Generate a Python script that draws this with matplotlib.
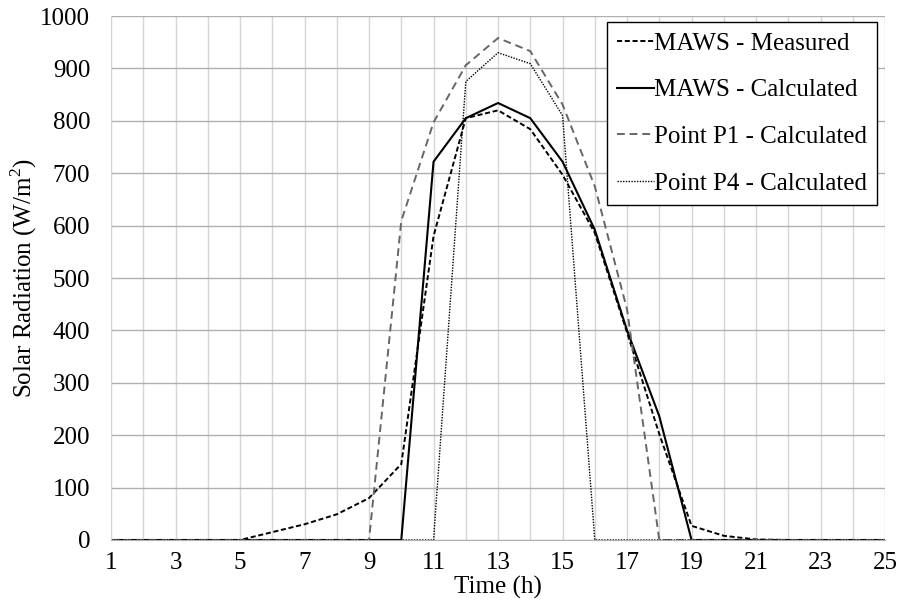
import matplotlib
matplotlib.use('Agg')
import matplotlib.pyplot as plt

hours = list(range(1, 26))
maws_measured = [0, 0, 0, 0, 0, 15, 30, 49, 80, 145, 580, 805, 820, 784, 697, 586, 396, 202, 27, 8, 1, 0, 0, 0, 0]
maws_calc = [0, 0, 0, 0, 0, 0, 0, 0, 0, 0, 722, 805, 834, 805, 722, 592, 400, 236, 0, 0, 0, 0, 0, 0, 0]
p1_calc = [0, 0, 0, 0, 0, 0, 0, 0, 0, 609, 797, 906, 958, 933, 831, 675, 440, 0, 0, 0, 0, 0, 0, 0, 0]
p4_calc = [0, 0, 0, 0, 0, 0, 0, 0, 0, 0, 0, 875, 930, 909, 810, 0, 0, 0, 0, 0, 0, 0, 0, 0, 0]

plt.rcParams['font.family'] = ['Liberation Serif', 'DejaVu Serif']
plt.rcParams['mathtext.fontset'] = 'custom'
plt.rcParams['mathtext.rm'] = 'Liberation Serif'
plt.rcParams['font.size'] = 18

fig = plt.figure(figsize=(8.99, 6.16), dpi=100)
ax = fig.add_axes([0.1235, 0.1234, 0.861, 0.8506])

ax.plot(hours, maws_measured, color='black', ls=(0, (2.6, 1.4)), lw=1.4, label='MAWS - Measured')
ax.plot(hours, maws_calc, color='black', ls='-', lw=1.5, label='MAWS - Calculated')
ax.plot(hours, p1_calc, color='#666666', ls=(0, (4, 2.5)), lw=1.4, label='Point P1 - Calculated')
ax.plot(hours, p4_calc, color='black', ls=(0, (1, 1)), lw=1.0, label='Point P4 - Calculated')

ax.set_xlim(1, 25)
ax.set_ylim(0, 1000)
ax.set_xticks(range(1, 26, 2))
ax.set_xticks(range(1, 26), minor=True)
ax.set_yticks(range(0, 1001, 100))
ax.grid(axis='y', which='major', color='#b0b0b0', lw=1)
ax.grid(axis='x', which='both', color='#d6d6d6', lw=1)
ax.set_axisbelow(True)
ax.tick_params(axis='y', which='both', length=0, pad=15)
ax.tick_params(axis='x', which='both', length=0, pad=9)
for s in ['top', 'right']:
    ax.spines[s].set_visible(False)
ax.spines['left'].set_color('#d6d6d6')
ax.spines['bottom'].set_color('#b0b0b0')

ax.set_xlabel('Time (h)', labelpad=1)
ax.set_ylabel('Solar Radiation (W/m$^\\mathregular{2}$)', labelpad=1)

leg = ax.legend(loc='upper right', bbox_to_anchor=(877 / 899, (616 - 22) / 616), bbox_transform=fig.transFigure,
                borderaxespad=0, fancybox=False, edgecolor='black', framealpha=1,
                handlelength=1.45, handletextpad=0.0, labelspacing=0.96, borderpad=0.42)
leg.get_frame().set_linewidth(1.0)

fig.savefig('out.png', dpi=100)
